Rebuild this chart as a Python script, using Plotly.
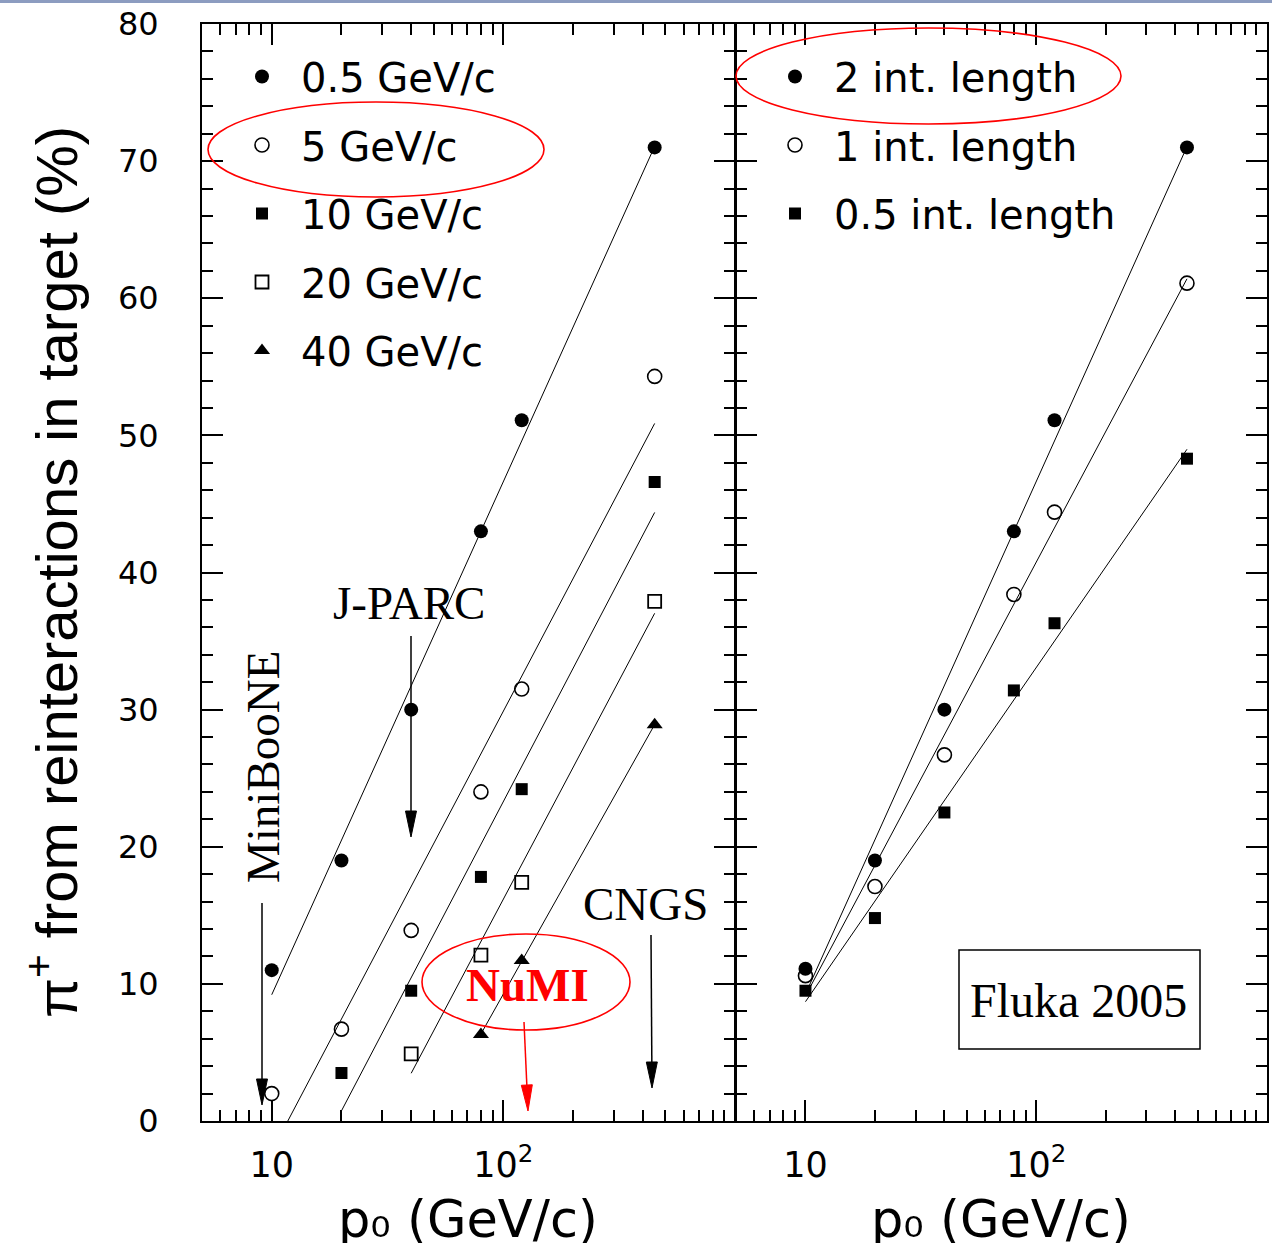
import numpy as np
import plotly.graph_objects as go

# ---------------- data ----------------
# Left panel: proton momentum p0 (GeV/c) for each pion-momentum selection
p_half = [10, 20, 40, 80, 120, 450]
y_half = [11.0, 19.0, 30.0, 43.0, 51.1, 71.0]      # 0.5 GeV/c
p_5 = [10, 20, 40, 80, 120, 450]
y_5 = [2.0, 6.7, 13.9, 24.0, 31.5, 54.3]           # 5 GeV/c
p_10 = [20, 40, 80, 120, 450]
y_10 = [3.5, 9.5, 17.8, 24.2, 46.6]                # 10 GeV/c
p_20 = [40, 80, 120, 450]
y_20 = [4.9, 12.1, 17.4, 37.9]                     # 20 GeV/c
p_40 = [80, 120, 450]
y_40 = [6.3, 11.7, 28.9]                           # 40 GeV/c

# Right panel: target length
p_len = [10, 20, 40, 80, 120, 450]
y_2int = [11.1, 19.0, 30.0, 43.0, 51.1, 71.0]
y_1int = [10.6, 17.1, 26.7, 38.4, 44.4, 61.1]
y_05int = [9.5, 14.8, 22.5, 31.4, 36.3, 48.3]

left_names = ["0.5 GeV/c", "5 GeV/c", "10 GeV/c", "20 GeV/c", "40 GeV/c"]
right_names = ["2 int. length", "1 int. length", "0.5 int. length"]

x_major_vals = [10, 100]
x_major_text = ["10", "10<sup>2</sup>"]
x_minor_vals = [6, 7, 8, 9, 20, 30, 40, 50, 60, 70, 80, 90,
                200, 300, 400, 500, 600, 700, 800, 900]
y_major_vals = [0, 10, 20, 30, 40, 50, 60, 70, 80]

# ---------------- helpers ----------------
W, H = 1272, 1243
def PX(x):
    return x / W
def PY(y):
    return 1 - y / H

def fit_line(px, py):
    lx = np.log10(px)
    a, b = np.polyfit(lx, py, 1)
    l0 = lx.min() if a * lx.min() + b >= 0 else -b / a
    l1 = lx.max()
    xs = [10 ** l0, 10 ** l1]
    ys = [a * l0 + b, a * l1 + b]
    return xs, ys

fig = go.Figure()

left_sets = [
    (p_half, y_half, "circle", 14, 0),
    (p_5, y_5, "circle-open", 14, 1.6),
    (p_10, y_10, "square", 12, 0),
    (p_20, y_20, "square-open", 13, 1.8),
    (p_40, y_40, "triangle-up", 14, 0),
]
right_sets = [
    (p_len, y_2int, "circle", 14, 0),
    (p_len, y_1int, "circle-open", 14, 1.6),
    (p_len, y_05int, "square", 12, 0),
]

for (px_, py_, sym, sz, lw), name in zip(left_sets, left_names):
    xs, ys = fit_line(np.array(px_, float), np.array(py_, float))
    fig.add_trace(go.Scatter(x=xs, y=ys, mode="lines", line=dict(color="black", width=1),
                             showlegend=False, hoverinfo="skip", xaxis="x", yaxis="y"))
for i, ((px_, py_, sym, sz, lw), name) in enumerate(zip(left_sets, left_names)):
    fig.add_trace(go.Scatter(x=px_, y=py_, mode="markers", name=name,
                             marker=dict(symbol=sym, size=sz, color="black",
                                         line=dict(color="black", width=lw)),
                             legend="legend", legendgroup="L%d" % i,
                             xaxis="x", yaxis="y"))

for (px_, py_, sym, sz, lw), name in zip(right_sets, right_names):
    xs, ys = fit_line(np.array(px_, float), np.array(py_, float))
    fig.add_trace(go.Scatter(x=xs, y=ys, mode="lines", line=dict(color="black", width=1),
                             showlegend=False, hoverinfo="skip", xaxis="x2", yaxis="y2"))
for i, ((px_, py_, sym, sz, lw), name) in enumerate(zip(right_sets, right_names)):
    fig.add_trace(go.Scatter(x=px_, y=py_, mode="markers", name=name,
                             marker=dict(symbol=sym, size=sz, color="black",
                                         line=dict(color="black", width=lw)),
                             legend="legend2", legendgroup="R%d" % i,
                             xaxis="x2", yaxis="y2"))

xrange = [np.log10(5), 3]
tickfont_x = dict(family="DejaVu Sans", size=35, color="black")
tickfont_y = dict(family="DejaVu Sans", size=32, color="black")

xcommon = dict(type="log", range=xrange, showline=True, linecolor="black", linewidth=2,
               mirror="ticks", ticks="inside", ticklen=21, tickwidth=2, tickcolor="black",
               tickmode="array", tickvals=x_major_vals, ticktext=x_major_text,
               tickfont=tickfont_x, showgrid=False, zeroline=False, automargin=False,
               ticklabelstandoff=12,
               minor=dict(ticks="inside", ticklen=11, tickwidth=1.5, tickcolor="black",
                          tickmode="array", tickvals=x_minor_vals, showgrid=False))
ycommon = dict(range=[0, 80], showline=True, linecolor="black", linewidth=2,
               mirror="ticks", ticks="inside", ticklen=21, tickwidth=2, tickcolor="black",
               tickmode="array", tickvals=y_major_vals, tickfont=tickfont_y,
               showgrid=False, zeroline=False, automargin=False,
               minor=dict(ticks="inside", ticklen=11, tickwidth=1.5, tickcolor="black",
                          dtick=2, showgrid=False))

legend_common = dict(xanchor="left", yanchor="top",
                     font=dict(family="DejaVu Sans", size=40, color="black"),
                     bgcolor="rgba(0,0,0,0)", tracegroupgap=13.5, traceorder="grouped",
                     itemwidth=68, itemclick=False)

fig.update_layout(
    width=W, height=H, margin=dict(l=0, r=0, t=0, b=0),
    plot_bgcolor="white", paper_bgcolor="white",
    xaxis=dict(domain=[PX(202), PX(735)], anchor="y", **xcommon),
    xaxis2=dict(domain=[PX(736), PX(1267)], anchor="y2", **xcommon),
    yaxis=dict(domain=[PY(1121), PY(24)], anchor="x", ticklabelstandoff=35, **ycommon),
    yaxis2=dict(domain=[PY(1121), PY(24)], anchor="x2", showticklabels=False, **ycommon),
    legend=dict(x=PX(223), y=PY(44), **legend_common),
    legend2=dict(x=PX(756), y=PY(44), **legend_common),
)

serif = "Liberation Serif"
ann = []
ann.append(dict(text="MiniBooNE", x=PX(263), y=PY(767), textangle=-90,
                font=dict(family=serif, size=47, color="black")))
ann.append(dict(text="J-PARC", x=PX(409), y=PY(603),
                font=dict(family=serif, size=47, color="black")))
ann.append(dict(text="CNGS", x=PX(645), y=PY(904),
                font=dict(family=serif, size=47, color="black")))
ann.append(dict(text="<b>NuMI</b>", x=PX(527), y=PY(985),
                font=dict(family=serif, size=47, color="#ff0000")))
ann.append(dict(text="Fluka 2005", x=PX(1078), y=PY(1000),
                font=dict(family=serif, size=48, color="black")))
ann.append(dict(text="\u03c0<sup>+</sup> from reinteractions in target (%)",
                x=PX(52), y=PY(572), textangle=-90,
                font=dict(family="Liberation Sans", size=58, color="black")))
for cx in (468, 1001):
    ann.append(dict(text="p\u2080 (GeV/c)", x=PX(cx), y=PY(1188), yanchor="top",
                    font=dict(family="DejaVu Sans", size=51, color="black")))
for a in ann:
    a.setdefault("xref", "paper")
    a.setdefault("yref", "paper")
    a.setdefault("showarrow", False)
    a.setdefault("xanchor", "center")
    a.setdefault("yanchor", "middle")
fig.update_layout(annotations=ann)

shapes = []
# top slide border
shapes.append(dict(type="line", xref="paper", yref="paper", x0=0, x1=1, y0=PY(1.5), y1=PY(1.5),
                   line=dict(color="#8c9cc0", width=3)))
# red ellipses
for (x0, y0, x1, y1) in [(208, 102, 544, 197), (422, 934, 630, 1030), (736, 28, 1121, 124)]:
    shapes.append(dict(type="circle", xref="paper", yref="paper",
                       x0=PX(x0), x1=PX(x1), y0=PY(y1), y1=PY(y0),
                       line=dict(color="#ff0000", width=1.6)))
# Fluka box
shapes.append(dict(type="rect", xref="paper", yref="paper",
                   x0=PX(959), x1=PX(1200), y0=PY(1049), y1=PY(950),
                   line=dict(color="black", width=1.5), fillcolor="rgba(0,0,0,0)"))

def arrow(xt, yt, xh, yh, color):
    d = np.array([xh - xt, yh - yt], float)
    L = np.hypot(*d)
    u = d / L
    n = np.array([-u[1], u[0]])
    hl, hw = 26, 5.5
    base = np.array([xh, yh]) - u * hl
    shapes.append(dict(type="line", xref="paper", yref="paper",
                       x0=PX(xt), y0=PY(yt), x1=PX(base[0]), y1=PY(base[1]),
                       line=dict(color=color, width=1.5)))
    p1 = base + n * hw
    p2 = base - n * hw
    path = "M %f %f L %f %f L %f %f Z" % (PX(xh), PY(yh), PX(p1[0]), PY(p1[1]),
                                          PX(p2[0]), PY(p2[1]))
    shapes.append(dict(type="path", xref="paper", yref="paper", path=path,
                       fillcolor=color, line=dict(color=color, width=1)))

arrow(262, 903, 262, 1105, "black")
arrow(411, 636, 411, 837, "black")
arrow(651, 935, 652, 1088, "black")
arrow(524, 1022, 528, 1111, "#ff0000")
fig.update_layout(shapes=shapes)

fig.write_html("out.html")
